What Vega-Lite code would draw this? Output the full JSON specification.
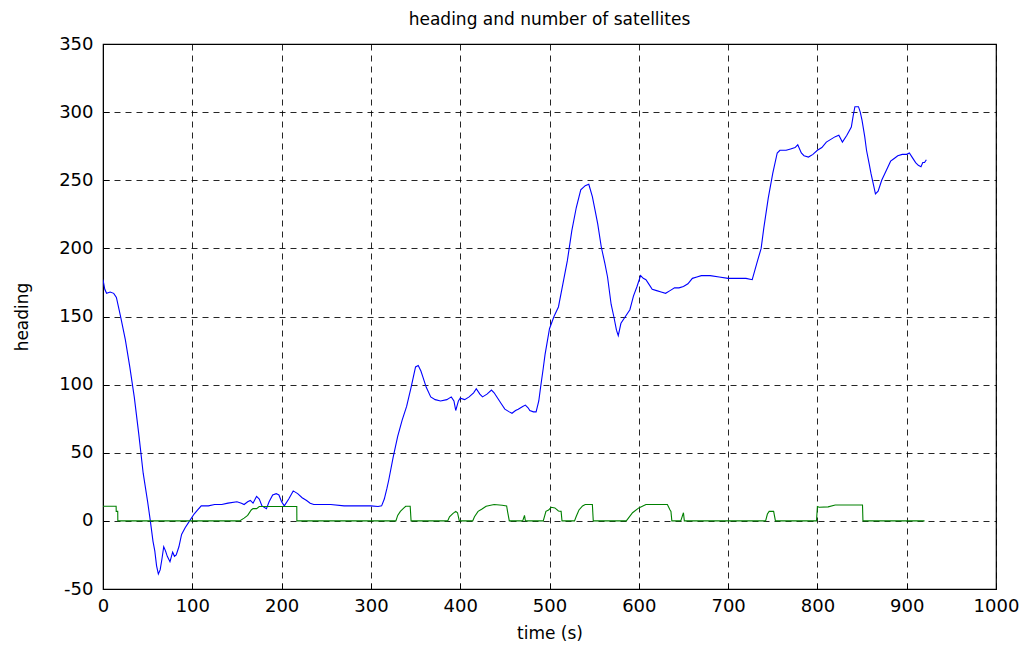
{
  "$schema": "https://vega.github.io/schema/vega-lite/v6.json",
  "width": 893,
  "height": 545,
  "autosize": "none",
  "padding": {"left": 103, "top": 44, "right": 32, "bottom": 58},
  "background": "white",
  "title": {"text": "heading and number of satellites", "font": "DejaVu Sans", "fontSize": 17, "fontWeight": "normal", "color": "black", "offset": 6, "anchor": "middle"},
  "config": {
    "view": {"stroke": "black", "strokeWidth": 1.2},
    "axis": {
      "labelFont": "DejaVu Sans", "labelFontSize": 18, "labelColor": "black",
      "titleFont": "DejaVu Sans", "titleFontSize": 17, "titleFontWeight": "normal", "titleColor": "black",
      "domainColor": "black", "tickColor": "black", "tickSize": -6,
      "gridColor": "black", "gridDash": [6, 5], "gridOpacity": 0.85, "gridWidth": 1
    }
  },
  "data": {"values": [
    {"t":0,"v":177,"s":"heading"},{"t":2,"v":170,"s":"heading"},{"t":4,"v":167,"s":"heading"},{"t":8,"v":168,"s":"heading"},{"t":12,"v":167,"s":"heading"},{"t":15,"v":164,"s":"heading"},{"t":18,"v":155,"s":"heading"},{"t":20,"v":149,"s":"heading"},{"t":25,"v":133,"s":"heading"},{"t":30,"v":113,"s":"heading"},{"t":35,"v":91,"s":"heading"},{"t":40,"v":64,"s":"heading"},{"t":45,"v":35,"s":"heading"},{"t":50,"v":14,"s":"heading"},{"t":53,"v":0,"s":"heading"},{"t":56,"v":-15,"s":"heading"},{"t":58,"v":-22,"s":"heading"},{"t":60,"v":-33,"s":"heading"},{"t":62,"v":-39,"s":"heading"},{"t":64,"v":-36,"s":"heading"},{"t":66,"v":-28,"s":"heading"},{"t":68,"v":-19,"s":"heading"},{"t":70,"v":-22,"s":"heading"},{"t":72,"v":-26,"s":"heading"},{"t":75,"v":-30,"s":"heading"},{"t":78,"v":-23,"s":"heading"},{"t":80,"v":-26,"s":"heading"},{"t":82,"v":-25,"s":"heading"},{"t":85,"v":-19,"s":"heading"},{"t":88,"v":-10,"s":"heading"},{"t":92,"v":-5,"s":"heading"},{"t":97,"v":0,"s":"heading"},{"t":102,"v":5,"s":"heading"},{"t":106,"v":8,"s":"heading"},{"t":110,"v":11,"s":"heading"},{"t":118,"v":11,"s":"heading"},{"t":125,"v":12,"s":"heading"},{"t":133,"v":12,"s":"heading"},{"t":140,"v":13,"s":"heading"},{"t":150,"v":14,"s":"heading"},{"t":155,"v":13,"s":"heading"},{"t":158,"v":12,"s":"heading"},{"t":162,"v":14,"s":"heading"},{"t":165,"v":15,"s":"heading"},{"t":168,"v":13,"s":"heading"},{"t":172,"v":18,"s":"heading"},{"t":175,"v":16,"s":"heading"},{"t":178,"v":11,"s":"heading"},{"t":183,"v":9,"s":"heading"},{"t":186,"v":14,"s":"heading"},{"t":190,"v":19,"s":"heading"},{"t":194,"v":20,"s":"heading"},{"t":197,"v":19,"s":"heading"},{"t":200,"v":14,"s":"heading"},{"t":203,"v":11,"s":"heading"},{"t":208,"v":16,"s":"heading"},{"t":213,"v":22,"s":"heading"},{"t":218,"v":20,"s":"heading"},{"t":223,"v":17,"s":"heading"},{"t":228,"v":15,"s":"heading"},{"t":232,"v":13,"s":"heading"},{"t":236,"v":12,"s":"heading"},{"t":245,"v":12,"s":"heading"},{"t":255,"v":12,"s":"heading"},{"t":270,"v":11,"s":"heading"},{"t":285,"v":11,"s":"heading"},{"t":300,"v":11,"s":"heading"},{"t":308,"v":10.5,"s":"heading"},{"t":312,"v":11,"s":"heading"},{"t":315,"v":16,"s":"heading"},{"t":318,"v":24,"s":"heading"},{"t":320,"v":30,"s":"heading"},{"t":325,"v":47,"s":"heading"},{"t":330,"v":62,"s":"heading"},{"t":335,"v":74,"s":"heading"},{"t":340,"v":84,"s":"heading"},{"t":345,"v":98,"s":"heading"},{"t":350,"v":113,"s":"heading"},{"t":353,"v":114,"s":"heading"},{"t":356,"v":110,"s":"heading"},{"t":358,"v":106,"s":"heading"},{"t":362,"v":98,"s":"heading"},{"t":367,"v":91,"s":"heading"},{"t":372,"v":89,"s":"heading"},{"t":378,"v":88,"s":"heading"},{"t":385,"v":89,"s":"heading"},{"t":390,"v":91,"s":"heading"},{"t":393,"v":88,"s":"heading"},{"t":395,"v":81,"s":"heading"},{"t":398,"v":88,"s":"heading"},{"t":400,"v":90,"s":"heading"},{"t":405,"v":89,"s":"heading"},{"t":410,"v":91,"s":"heading"},{"t":415,"v":94,"s":"heading"},{"t":418,"v":97,"s":"heading"},{"t":422,"v":93,"s":"heading"},{"t":425,"v":91,"s":"heading"},{"t":430,"v":93,"s":"heading"},{"t":435,"v":96,"s":"heading"},{"t":438,"v":94,"s":"heading"},{"t":442,"v":90,"s":"heading"},{"t":446,"v":86,"s":"heading"},{"t":450,"v":82,"s":"heading"},{"t":455,"v":80,"s":"heading"},{"t":458,"v":79,"s":"heading"},{"t":462,"v":81,"s":"heading"},{"t":465,"v":82,"s":"heading"},{"t":470,"v":84,"s":"heading"},{"t":473,"v":85,"s":"heading"},{"t":476,"v":83,"s":"heading"},{"t":478,"v":81,"s":"heading"},{"t":482,"v":80,"s":"heading"},{"t":485,"v":80,"s":"heading"},{"t":488,"v":88,"s":"heading"},{"t":490,"v":98,"s":"heading"},{"t":493,"v":112,"s":"heading"},{"t":495,"v":122,"s":"heading"},{"t":500,"v":141,"s":"heading"},{"t":505,"v":150,"s":"heading"},{"t":510,"v":157,"s":"heading"},{"t":515,"v":174,"s":"heading"},{"t":520,"v":191,"s":"heading"},{"t":525,"v":213,"s":"heading"},{"t":530,"v":230,"s":"heading"},{"t":535,"v":243,"s":"heading"},{"t":540,"v":246,"s":"heading"},{"t":544,"v":247,"s":"heading"},{"t":548,"v":238,"s":"heading"},{"t":551,"v":228,"s":"heading"},{"t":554,"v":218,"s":"heading"},{"t":558,"v":201,"s":"heading"},{"t":562,"v":189,"s":"heading"},{"t":565,"v":179,"s":"heading"},{"t":569,"v":159,"s":"heading"},{"t":572,"v":150,"s":"heading"},{"t":575,"v":140,"s":"heading"},{"t":577,"v":136,"s":"heading"},{"t":580,"v":145,"s":"heading"},{"t":585,"v":150,"s":"heading"},{"t":590,"v":155,"s":"heading"},{"t":594,"v":165,"s":"heading"},{"t":598,"v":172,"s":"heading"},{"t":602,"v":180,"s":"heading"},{"t":605,"v":178,"s":"heading"},{"t":608,"v":177,"s":"heading"},{"t":612,"v":173,"s":"heading"},{"t":615,"v":170,"s":"heading"},{"t":620,"v":169,"s":"heading"},{"t":625,"v":168,"s":"heading"},{"t":630,"v":167,"s":"heading"},{"t":635,"v":169,"s":"heading"},{"t":640,"v":171,"s":"heading"},{"t":645,"v":171,"s":"heading"},{"t":650,"v":172,"s":"heading"},{"t":655,"v":174,"s":"heading"},{"t":660,"v":178,"s":"heading"},{"t":665,"v":179,"s":"heading"},{"t":670,"v":180,"s":"heading"},{"t":680,"v":180,"s":"heading"},{"t":690,"v":179,"s":"heading"},{"t":700,"v":178,"s":"heading"},{"t":710,"v":178,"s":"heading"},{"t":720,"v":178,"s":"heading"},{"t":727,"v":177,"s":"heading"},{"t":730,"v":184,"s":"heading"},{"t":733,"v":191,"s":"heading"},{"t":737,"v":200,"s":"heading"},{"t":740,"v":215,"s":"heading"},{"t":745,"v":237,"s":"heading"},{"t":750,"v":255,"s":"heading"},{"t":755,"v":270,"s":"heading"},{"t":758,"v":272,"s":"heading"},{"t":765,"v":272,"s":"heading"},{"t":770,"v":273,"s":"heading"},{"t":775,"v":274,"s":"heading"},{"t":778,"v":276,"s":"heading"},{"t":782,"v":270,"s":"heading"},{"t":785,"v":268,"s":"heading"},{"t":790,"v":267,"s":"heading"},{"t":795,"v":269,"s":"heading"},{"t":800,"v":272,"s":"heading"},{"t":805,"v":274,"s":"heading"},{"t":810,"v":278,"s":"heading"},{"t":815,"v":280,"s":"heading"},{"t":820,"v":282,"s":"heading"},{"t":824,"v":283,"s":"heading"},{"t":828,"v":278,"s":"heading"},{"t":833,"v":283,"s":"heading"},{"t":838,"v":289,"s":"heading"},{"t":840,"v":297,"s":"heading"},{"t":842,"v":304,"s":"heading"},{"t":846,"v":304,"s":"heading"},{"t":848,"v":300,"s":"heading"},{"t":850,"v":294,"s":"heading"},{"t":853,"v":282,"s":"heading"},{"t":855,"v":272,"s":"heading"},{"t":858,"v":262,"s":"heading"},{"t":860,"v":255,"s":"heading"},{"t":863,"v":246,"s":"heading"},{"t":865,"v":240,"s":"heading"},{"t":868,"v":242,"s":"heading"},{"t":872,"v":250,"s":"heading"},{"t":877,"v":257,"s":"heading"},{"t":882,"v":264,"s":"heading"},{"t":886,"v":266,"s":"heading"},{"t":890,"v":268,"s":"heading"},{"t":895,"v":269,"s":"heading"},{"t":900,"v":269,"s":"heading"},{"t":903,"v":270,"s":"heading"},{"t":906,"v":267,"s":"heading"},{"t":910,"v":263,"s":"heading"},{"t":913,"v":261,"s":"heading"},{"t":916,"v":260,"s":"heading"},{"t":918,"v":263,"s":"heading"},{"t":920,"v":263,"s":"heading"},{"t":922,"v":265,"s":"heading"},
    {"t":0,"v":10.7,"s":"satellites"},{"t":14.7,"v":10.7,"s":"satellites"},{"t":14.8,"v":7,"s":"satellites"},{"t":16.5,"v":7,"s":"satellites"},{"t":16.6,"v":0,"s":"satellites"},{"t":153,"v":0,"s":"satellites"},{"t":158,"v":2,"s":"satellites"},{"t":162,"v":4,"s":"satellites"},{"t":166,"v":8,"s":"satellites"},{"t":168,"v":9,"s":"satellites"},{"t":172,"v":9,"s":"satellites"},{"t":175,"v":10.5,"s":"satellites"},{"t":217,"v":10.5,"s":"satellites"},{"t":217.1,"v":0,"s":"satellites"},{"t":328,"v":0,"s":"satellites"},{"t":330,"v":4,"s":"satellites"},{"t":333,"v":7,"s":"satellites"},{"t":337,"v":9.5,"s":"satellites"},{"t":339,"v":10.7,"s":"satellites"},{"t":344,"v":10.7,"s":"satellites"},{"t":345,"v":0,"s":"satellites"},{"t":386,"v":0,"s":"satellites"},{"t":388,"v":3,"s":"satellites"},{"t":392,"v":5.5,"s":"satellites"},{"t":395,"v":7,"s":"satellites"},{"t":397,"v":6,"s":"satellites"},{"t":399,"v":0,"s":"satellites"},{"t":414,"v":0,"s":"satellites"},{"t":416,"v":3,"s":"satellites"},{"t":420,"v":7,"s":"satellites"},{"t":424,"v":8.5,"s":"satellites"},{"t":429,"v":10.7,"s":"satellites"},{"t":438,"v":12,"s":"satellites"},{"t":447,"v":11.5,"s":"satellites"},{"t":452,"v":11,"s":"satellites"},{"t":453,"v":7,"s":"satellites"},{"t":455,"v":0,"s":"satellites"},{"t":470,"v":0,"s":"satellites"},{"t":472,"v":4,"s":"satellites"},{"t":473,"v":0,"s":"satellites"},{"t":493,"v":0,"s":"satellites"},{"t":496,"v":7,"s":"satellites"},{"t":499,"v":8,"s":"satellites"},{"t":502,"v":10,"s":"satellites"},{"t":506,"v":9.5,"s":"satellites"},{"t":510,"v":7.3,"s":"satellites"},{"t":513,"v":7,"s":"satellites"},{"t":514,"v":0,"s":"satellites"},{"t":528,"v":0,"s":"satellites"},{"t":530,"v":3.4,"s":"satellites"},{"t":533,"v":8,"s":"satellites"},{"t":537,"v":11,"s":"satellites"},{"t":540,"v":12,"s":"satellites"},{"t":548,"v":12,"s":"satellites"},{"t":549,"v":0,"s":"satellites"},{"t":586,"v":0,"s":"satellites"},{"t":593,"v":6,"s":"satellites"},{"t":600,"v":9.5,"s":"satellites"},{"t":608,"v":12,"s":"satellites"},{"t":632,"v":12,"s":"satellites"},{"t":635,"v":8,"s":"satellites"},{"t":636,"v":7,"s":"satellites"},{"t":637,"v":0,"s":"satellites"},{"t":647,"v":0,"s":"satellites"},{"t":650,"v":6,"s":"satellites"},{"t":651,"v":0,"s":"satellites"},{"t":742,"v":0,"s":"satellites"},{"t":744,"v":5,"s":"satellites"},{"t":746,"v":7,"s":"satellites"},{"t":751,"v":7,"s":"satellites"},{"t":753,"v":0,"s":"satellites"},{"t":799,"v":0,"s":"satellites"},{"t":800,"v":10.5,"s":"satellites"},{"t":802,"v":10,"s":"satellites"},{"t":812,"v":10.3,"s":"satellites"},{"t":820,"v":11.7,"s":"satellites"},{"t":850.5,"v":11.7,"s":"satellites"},{"t":851,"v":0,"s":"satellites"},{"t":920,"v":0,"s":"satellites"}
  ]},
  "mark": {"type": "line", "strokeWidth": 1.1, "clip": true},
  "encoding": {
    "x": {"field": "t", "type": "quantitative", "title": "time (s)",
      "scale": {"domain": [0, 1000], "nice": false, "zero": false},
      "axis": {"values": [0,100,200,300,400,500,600,700,800,900,1000], "labelExpr": "toString(datum.value)", "labelPadding": 14, "titlePadding": 10, "labelFlush": false}},
    "y": {"field": "v", "type": "quantitative", "title": "heading",
      "scale": {"domain": [-50, 350], "nice": false, "zero": false},
      "axis": {"values": [-50,0,50,100,150,200,250,300,350], "labelExpr": "toString(datum.value)", "labelPadding": 16, "titlePadding": 27}},
    "color": {"field": "s", "type": "nominal", "legend": null,
      "scale": {"domain": ["heading", "satellites"], "range": ["#0000ff", "#008000"]}}
  }
}
